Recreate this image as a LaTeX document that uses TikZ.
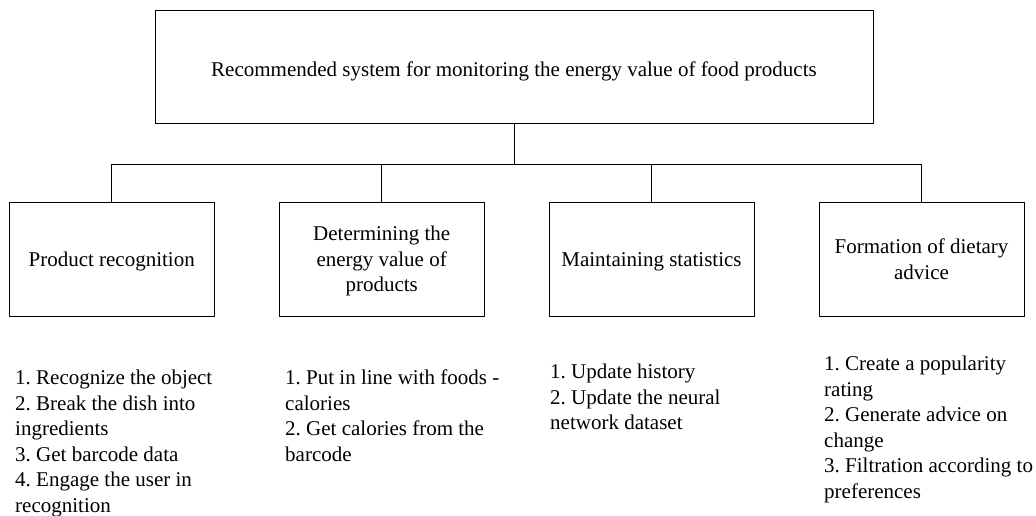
\documentclass[tikz,border=0pt]{standalone}
\usepackage{fontspec}
\setmainfont{Liberation Serif}
\begin{document}
\frenchspacing
\begin{tikzpicture}[x=1pt,y=-1pt,
  box/.style={draw, line width=0.9pt, minimum width=205pt, minimum height=113.7pt,
    align=center, inner sep=2pt, text depth=0pt, font=\fontsize{21}{25.5}\selectfont},
  topbox/.style={box, minimum width=718pt, minimum height=113.3pt},
  list/.style={anchor=north west, align=left, inner sep=0pt,
    font=\fontsize{21}{25.5}\selectfont},
  link/.style={line width=0.9pt}]
\useasboundingbox (0,0) rectangle (1036,515);

% root of the hierarchy
\node[topbox] (root) at (514,66.7) {\raisebox{-2pt}[\height][\depth]{Recommended system for monitoring the energy value of food products}};

% four functional blocks
\node[box] (b1) at (111.7,259.2) {Product recognition};
\node[box] (b2) at (381.7,259.2) {Determining the\\energy value of\\products};
\node[box] (b3) at (651.5,259.2) {Maintaining statistics};
\node[box] (b4) at (921.5,259.2) {Formation of dietary\\advice};

% tree connectors through a common bus
\coordinate (bus) at (514,164.3);
\draw[link] (root.south) -- (bus);
\draw[link] (b1.north |- bus) -- (b4.north |- bus);
\foreach \b in {b1,b2,b3,b4}
  \draw[link] (\b.north |- bus) -- (\b.north);

% task lists under each block
\node[list] (l1) at (15,370) {1. Recognize the object\\2. Break the dish into\\ingredients\\3. Get barcode data\\4. Engage the user in\\recognition};
\node[list] (l2) at (285,370) {1. Put in line with foods -\\calories\\2. Get calories from the\\barcode};
\node[list] (l3) at (550,364) {1. Update history\\2. Update the neural\\network dataset};
\node[list] (l4) at (824,356) {1. Create a popularity\\rating\\2. Generate advice on\\change\\3. Filtration according to\\preferences};
\end{tikzpicture}
\end{document}
